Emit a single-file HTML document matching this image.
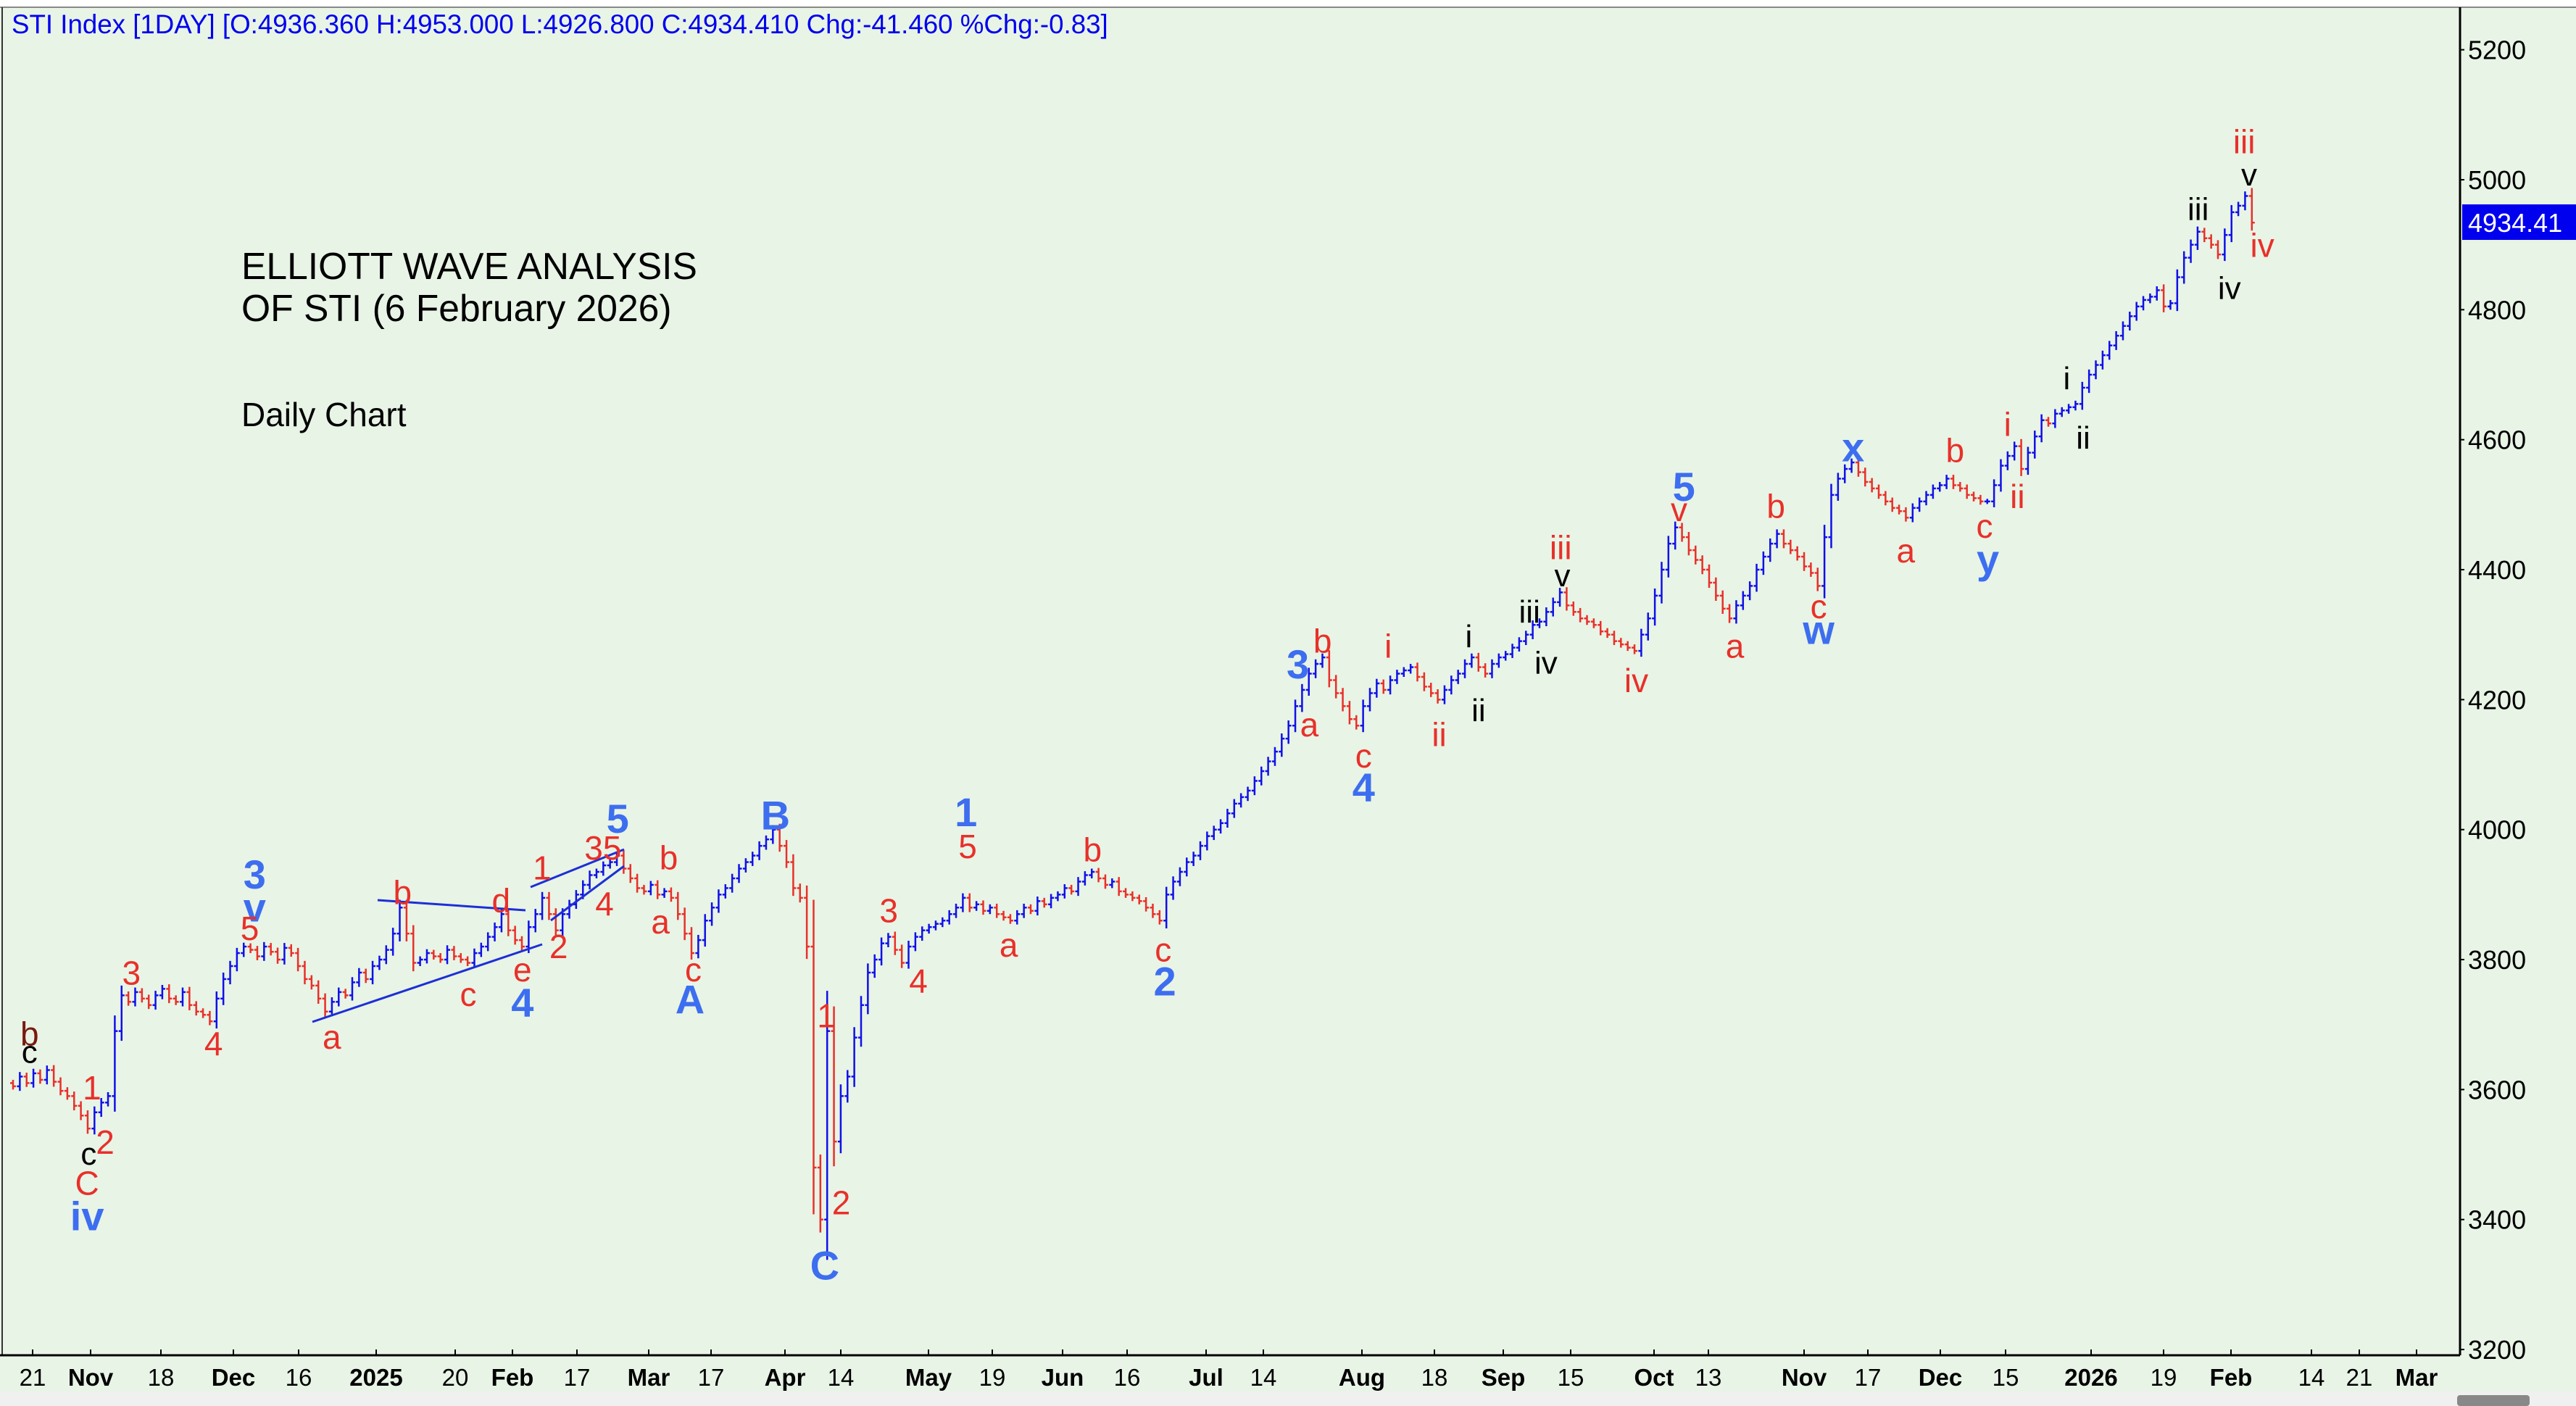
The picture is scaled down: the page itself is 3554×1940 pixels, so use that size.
<!DOCTYPE html>
<html><head><meta charset="utf-8">
<style>
html,body{margin:0;padding:0;background:#e8f4e6;}
svg{display:block;font-family:"Liberation Sans",sans-serif;}
</style></head>
<body>
<svg id="chart" width="3554" height="1940" viewBox="0 0 3554 1940" xmlns="http://www.w3.org/2000/svg">
<rect x="0" y="0" width="3554" height="1940" fill="#e8f4e6"/>
<rect x="0" y="0" width="3554" height="10" fill="#ffffff"/>
<line x1="0" y1="10" x2="3554" y2="10" stroke="#888" stroke-width="2"/>
<rect x="0" y="1920" width="3554" height="20" fill="#f0f0f0"/>
<rect x="3390" y="1925" width="100" height="15" rx="4" fill="#888"/>
<line x1="3" y1="10" x2="3" y2="1870" stroke="#333" stroke-width="2"/>
<line x1="3394" y1="10" x2="3394" y2="1870" stroke="#000" stroke-width="3"/>
<line x1="0" y1="1870" x2="3394" y2="1870" stroke="#000" stroke-width="3"/>
<g id="bars"></g>
<g id="yaxis"></g>
<g id="xaxis"></g>
<g id="lines" stroke="#1d2fd6" stroke-width="3">
<line x1="431" y1="1410" x2="748" y2="1303"/>
<line x1="521" y1="1242" x2="725" y2="1256"/>
<line x1="732" y1="1224" x2="861" y2="1172"/>
<line x1="760" y1="1270" x2="861" y2="1195"/>
</g>
<g id="labels"></g>
<text x="16" y="46" font-size="36.7" fill="#0000ee">STI Index [1DAY] [O:4936.360 H:4953.000 L:4926.800 C:4934.410 Chg:-41.460 %Chg:-0.83]</text>
<text x="333" y="385" font-size="51.6" fill="#000">ELLIOTT WAVE ANALYSIS</text>
<text x="333" y="443" font-size="51.6" fill="#000">OF STI (6 February 2026)</text>
<text x="333" y="588" font-size="46" fill="#000">Daily Chart</text>
<rect x="3397" y="282" width="157" height="49" fill="#0000ee"/>
<text x="3405" y="320" font-size="36" fill="#fff">4934.41</text>
</svg>
<script>
const closes = [3605,3620,3610,3625,3615,3630,3612,3598,3590,3575,3560,3540,3565,3580,3590,3690,3745,
3735,3750,3740,3730,3745,3755,3740,3735,3750,3730,3720,3715,3705,3740,3770,3790,3810,3820,
3815,3805,3820,3812,3800,3818,3810,3790,3770,3760,3740,3720,3735,3750,3745,3765,3780,3770,3790,3800,3815,3840,3880,
3840,3795,3800,3810,3805,3800,3815,3805,3800,3795,3810,3820,3835,3850,3870,3845,3830,3820,
3850,3870,3895,3870,3845,3870,3885,3900,3915,3930,3935,3945,3950,3960,3940,3925,3910,3905,3915,3900,3905,3895,
3870,3840,3810,3830,3860,3880,3900,3910,3925,3940,3950,3960,3975,3985,4000,3975,3950,3910,3895,
3820,3480,3400,3690,3520,3590,3620,3680,3730,3780,3800,3825,3835,3815,3795,
3820,3835,3845,3850,3855,3860,3870,3880,3895,3880,3885,3875,3880,3870,3865,3860,
3870,3880,3875,3890,3885,3895,3900,3910,3905,3920,3930,3935,3925,3915,3920,3905,3900,3895,3890,3880,3870,3860,
3900,3920,3935,3950,3960,3975,3990,4000,4010,4025,4040,4050,4060,4075,4090,4105,4120,4140,4160,4190,4215,
4240,4255,4265,4230,4210,4190,4170,4160,4190,4210,4225,4215,4230,4240,4245,4250,4235,4220,4210,4200,
4215,4230,4240,4255,4265,4250,4240,4255,4265,4270,4280,4290,4300,4315,4320,4335,4350,4365,
4345,4335,4325,4320,4315,4305,4300,4290,4285,4280,4275,4300,4325,4360,4400,4440,4465,
4450,4430,4415,4400,4380,4360,4340,4325,4345,4360,4375,4400,4420,4440,4455,4440,4430,4420,4405,4395,4375,
4450,4515,4540,4555,4565,4550,4535,4525,4515,4505,4495,4490,4480,4495,4505,4515,4525,4530,4540,
4530,4525,4515,4510,4505,4505,4530,4560,4575,4590,4555,4580,4605,4630,
4625,4640,4645,4650,4655,4680,4700,4715,4730,4745,4760,4775,4790,4805,4815,4820,4830,4805,4810,
4850,4880,4900,4920,4910,4900,4885,4915,4950,4960,4975,4934];
const yTicks = [3200,3400,3600,3800,4000,4200,4400,4600,4800,5000,5200];
const xLabels = ["21","Nov","18","Dec","16","2025","20","Feb","17","Mar","17","Apr","14","May","19","Jun","16","Jul","14","Aug","18","Sep","15","Oct","13","Nov","17","Dec","15","2026","19","Feb","14","21","Mar"];
const xLabelPos = [45,125,222,322,412,519,628,707,796,895,981,1083,1160,1281,1369,1466,1555,1664,1743,1879,1979,2074,2167,2282,2357,2489,2577,2677,2767,2885,2985,3078,3189,3255,3334];
const xLabelBold = ["Nov","Dec","2025","Feb","Mar","Apr","May","Jun","Jul","Aug","Sep","Oct","2026"];
const NS="http://www.w3.org/2000/svg";
function yScale(v){return 248+(5000-v)*0.8967;}
function xScale(i){return 18+i*9.36;}
function mk(tag,attrs,parent){const e=document.createElementNS(NS,tag);for(const k in attrs)e.setAttribute(k,attrs[k]);parent.appendChild(e);return e;}
const bars=document.getElementById('bars');
for(let i=0;i<closes.length;i++){
  const c=closes[i], o=i>0?closes[i-1]:c+5;
  const rng=4+Math.abs(c-o)*0.2;
  const hi=Math.max(o,c)+rng, lo=Math.min(o,c)-rng;
  const col=c>=o?'#1010e8':'#e8302a';
  const x=xScale(i);
  const g=mk('g',{stroke:col,'stroke-width':2.5},bars);
  
  
  mk('line',{x1:x,y1:yScale(hi),x2:x,y2:yScale(lo)},g);
  mk('line',{x1:x-4,y1:yScale(o),x2:x,y2:yScale(o)},g);
  mk('line',{x1:x,y1:yScale(c),x2:x+4,y2:yScale(c)},g);
}
const ya=document.getElementById('yaxis');
yTicks.forEach(v=>{
  const y=yScale(v);
  const t=mk('line',{x1:3394,y1:y,x2:3400,y2:y,stroke:'#000','stroke-width':2},ya);
  
  
  const tx=mk('text',{x:3405,y:y+13,'font-size':36,fill:'#000'},ya);
  
  
  tx.textContent=v;
});
const xa=document.getElementById('xaxis');
xLabels.forEach((l,k)=>{
  const x=xLabelPos[k];
  const t=mk('line',{x1:x,y1:1870,x2:x,y2:1862,stroke:'#000','stroke-width':2},xa);
  
  
  const tx=mk('text',{x:x,y:1912,'font-size':33,'text-anchor':'middle',fill:'#000','font-weight':xLabelBold.includes(l)?'bold':'normal'},xa);
  
  
  tx.textContent=l;
});
const B='#3d6ef0',R='#e8302a',K='#000';
const labels=[
[155,532,'3',B,1],[155,552,'v',B,1],[376,498,'5',B,1],[318,610,'4',B,1],[420,608,'A',B,1],[472,496,'B',B,1],[502,770,'C',B,1],
[588,494,'1',B,1],[709,597,'2',B,1],[790,404,'3',B,1],[830,479,'4',B,1],[1025,296,'5',B,1],[1107,383,'w',B,1],[1128,272,'x',B,1],[1210,340,'y',B,1],[53,740,'iv',B,1],
[56,662,'1',R,0],[64,695,'2',R,0],[53,720,'C',R,0],[80,592,'3',R,0],[130,635,'4',R,0],[152,565,'5',R,0],[202,631,'a',R,0],[245,543,'b',R,0],[285,605,'c',R,0],[305,548,'d',R,0],[318,590,'e',R,0],
[330,528,'1',R,0],[340,576,'2',R,0],[367,516,'35',R,0],[368,550,'4',R,0],[407,522,'b',R,0],[402,561,'a',R,0],[422,590,'c',R,0],[503,618,'1',R,0],[512,732,'2',R,0],[589,515,'5',R,0],
[541,554,'3',R,0],[559,597,'4',R,0],[614,575,'a',R,0],[665,517,'b',R,0],[708,578,'c',R,0],[797,441,'a',R,0],[805,390,'b',R,0],[830,460,'c',R,0],[845,393,'i',R,0],[876,447,'ii',R,0],
[950,333,'iii',R,0],[1022,310,'v',R,0],[996,414,'iv',R,0],[1056,393,'a',R,0],[1081,308,'b',R,0],[1107,369,'c',R,0],[1160,335,'a',R,0],[1190,274,'b',R,0],[1208,320,'c',R,0],
[1222,258,'i',R,0],[1228,302,'ii',R,0],[1366,86,'iii',R,0],[1377,149,'iv',R,0],[18,629,'b','#7a1a10',0],
[18,640,'c',K,0],[54,702,'c',K,0],[894,387,'i',K,0],[900,432,'ii',K,0],[931,372,'iii',K,0],[951,350,'v',K,0],[941,403,'iv',K,0],[1258,230,'i',K,0],[1268,266,'ii',K,0],
[1338,127,'iii',K,0],[1369,106,'v',K,0],[1357,175,'iv',K,0]];
const lg=document.getElementById('labels');
labels.forEach(a=>{
  const big=a[4]===1;
  const fs=big?56:(a[3]===K?44:46);
  const t=mk('text',{x:a[0]*2.2666,y:a[1]*2.2666+fs*0.36,'font-size':fs,'text-anchor':'middle',fill:a[3],'font-weight':big?'bold':'normal'},lg);
  
  
  t.textContent=a[2];
});
</script>
</body></html>
